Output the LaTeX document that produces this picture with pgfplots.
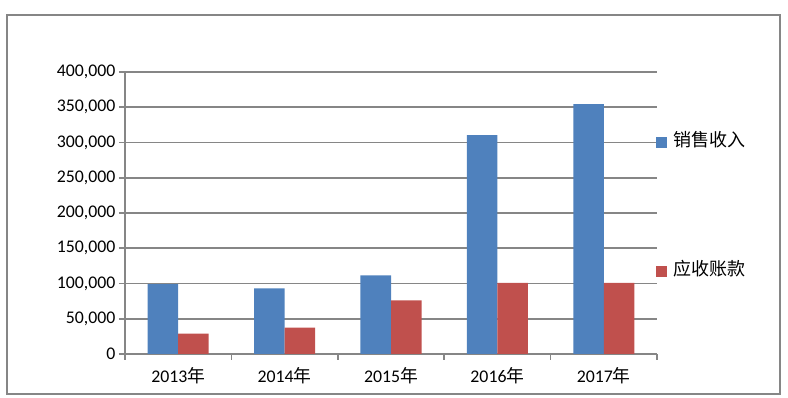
\documentclass[border=0pt]{standalone}
\usepackage{fontspec}
\setmainfont{Carlito}
\newfontfamily\cjk{Noto Sans CJK SC}
\usepackage{pgfplots}
\pgfplotsset{compat=1.18}
\definecolor{sblue}{HTML}{4F81BD}
\definecolor{sred}{HTML}{C0504D}
\definecolor{lgray}{HTML}{868686}
\begin{document}
\begin{tikzpicture}
\path[use as bounding box] (0,0) rectangle (788pt,398pt);
\draw[lgray, line width=2pt] (7pt,4pt) rectangle (780pt,383pt);
\begin{axis}[
  at={(125pt,44pt)}, anchor=south west,
  width=532pt, height=282pt, scale only axis,
  xmin=-0.5, xmax=4.5, ymin=0, ymax=400000,
  axis x line=bottom, axis y line=left,
  axis line style={-, draw=lgray, line width=1.6pt},
  ytick={0,50000,100000,150000,200000,250000,300000,350000,400000},
  scaled y ticks=false,
  yticklabel style={/pgf/number format/.cd, fixed, 1000 sep={,}, assume math mode=true},
  ymajorgrids, grid style={draw=lgray, line width=1.6pt},
  xtick={-0.5,0.5,1.5,2.5,3.5,4.5},
  x tick label as interval,
  xticklabels={2013{\cjk 年},2014{\cjk 年},2015{\cjk 年},2016{\cjk 年},2017{\cjk 年}},
  xticklabel style={yshift=-3.5pt},
  tick align=outside, major tick length=6pt,
  tick style={draw=lgray, line width=1.6pt},
  ticklabel style={font=\fontsize{17.8}{20}\selectfont, text=black},
  legend style={at={(0.998,0.5195)}, anchor=west, draw=none, fill=none,
    inner sep=0pt, row sep=113pt, column sep=6pt,
    nodes={inner sep=0pt, text height=12pt, text depth=4pt},
    font=\fontsize{18}{20}\selectfont\cjk},
  legend image code/.code={\fill[#1] (0pt,-5.5pt) rectangle (11pt,5.5pt);},
]
\addplot[ybar, fill=sblue, draw=none, bar width=0.287, bar shift=-0.1435]
  coordinates {(0,99000) (1,93000) (2,111500) (3,310500) (4,354500)};
\addplot[ybar, fill=sred, draw=none, bar width=0.287, bar shift=0.1435]
  coordinates {(0,29000) (1,37500) (2,76000) (3,101000) (4,101000)};
\legend{销售收入,应收账款}
\end{axis}
\end{tikzpicture}
\end{document}
